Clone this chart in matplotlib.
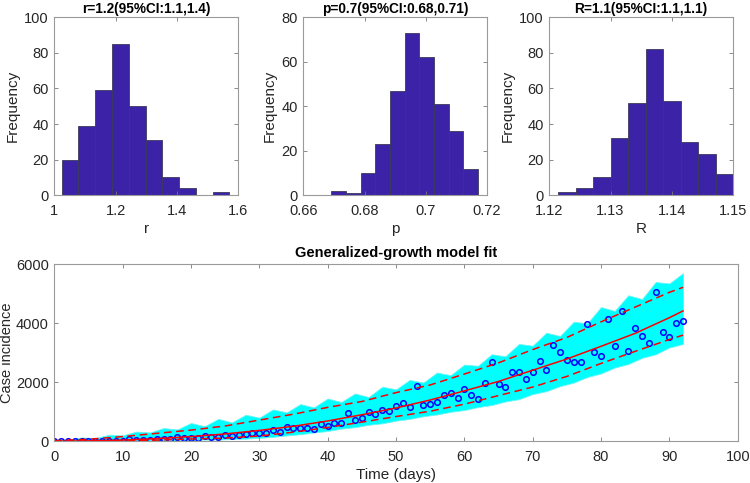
import numpy as np
import matplotlib
matplotlib.use('Agg')
import matplotlib.pyplot as plt
from matplotlib.ticker import FormatStrFormatter

plt.rcParams['font.family'] = ['Liberation Sans', 'DejaVu Sans']
plt.rcParams['font.size'] = 10

# Histogramas de los parametros (10 clases cada uno)
r_rango = (1.024, 1.572)
r_cuentas = [20, 39, 59, 85, 50, 31, 10, 4, 0, 2]
p_rango = (0.6692, 0.7170)
p_cuentas = [2, 1, 10, 23, 47, 73, 62, 41, 29, 12]
R_rango = (1.1215, 1.1500)
R_cuentas = [2, 4, 10, 32, 52, 82, 53, 30, 23, 12]

titulos = ['r=1.2(95%CI:1.1,1.4)', 'p=0.7(95%CI:0.68,0.71)', 'R=1.1(95%CI:1.1,1.1)']
etiquetas_x = ['r', 'p', 'R']
limites_x = [(1.0, 1.6), (0.66, 0.72), (1.12, 1.15)]
ticks_x = [[1, 1.2, 1.4, 1.6], [0.66, 0.68, 0.7, 0.72], [1.12, 1.13, 1.14, 1.15]]
limites_y = [100, 80, 100]

# Incidencia observada (dias 0..92)
dias = np.arange(0, 93)
casos = [1, 3, 2, 4, 6, 5, 9, 12, 15, 22, 18, 70, 45, 48, 57, 90, 80, 90, 136, 113,
         124, 124, 181, 136, 147, 226, 170, 226, 260, 294, 283, 271, 396, 316, 475, 441,
         441, 452, 418, 588, 508, 622, 633, 972, 723, 780, 983, 920, 1062, 1040, 1198,
         1288, 1153, 1887, 1243, 1277, 1322, 1571, 1639, 1458, 1785, 1571, 1435, 1978,
         2689, 1944, 1842, 2339, 2362, 2113, 2350, 2735, 2418, 3266, 3028, 2746, 2678,
         2689, 3966, 3017, 2882, 4158, 3232, 4430, 3074, 3853, 3571, 3345, 5051, 3695,
         3526, 4012, 4079]

# Ajuste del modelo y bandas de prediccion
dias_ajuste = [0, 5, 10, 15, 20, 25, 30, 35, 40, 45, 50, 55, 60, 65, 70, 75, 80, 85, 90, 92]
ajuste = [2, 15, 42, 90, 160, 250, 370, 510, 690, 900, 1130, 1400, 1710, 2030, 2410,
          2790, 3220, 3660, 4190, 4420]
banda_sup = [20, 70, 160, 270, 380, 520, 720, 920, 1150, 1350, 1650, 1910, 2280, 2660,
             3110, 3520, 4050, 4550, 5050, 5220]
banda_inf = [0, 0, 10, 40, 80, 110, 180, 310, 470, 650, 840, 1020, 1260, 1550, 1840,
             2200, 2640, 3050, 3450, 3600]

# Envolvente de las curvas simuladas (cian), cada 2 dias
dias_cian = np.arange(0, 93, 2)
cian_sup = [60, 60, 130, 110, 220, 200, 330, 300, 450, 400, 620, 510, 760, 640, 900, 800,
            1080, 980, 1260, 1150, 1450, 1330, 1620, 1500, 1850, 1760, 2080, 1990, 2330,
            2240, 2600, 2560, 2950, 2880, 3300, 3240, 3680, 3570, 4050, 4000, 4550, 4420,
            4950, 4820, 5400, 5350, 5700]
cian_inf = [0, 0, 0, 0, 0, 0, 5, 15, 20, 35, 45, 60, 60, 80, 90, 120, 150, 200, 240, 300,
            350, 430, 480, 560, 610, 700, 760, 850, 910, 1000, 1060, 1160, 1230, 1350,
            1430, 1600, 1700, 1870, 1990, 2180, 2300, 2500, 2620, 2830, 2950, 3180, 3300]

color_texto = '#262626'
color_eje = '#9a9a9a'


def estilo_ejes(ax):
    for s in ax.spines.values():
        s.set_color(color_eje)
        s.set_linewidth(0.8)
    ax.tick_params(direction='in', top=True, right=True, length=3, width=0.6,
                   color='#777777', labelcolor=color_texto, labelsize=10.5)
    ax.tick_params(axis='x', pad=6)
    ax.tick_params(axis='y', pad=4)


fig = plt.figure(figsize=(7.5, 4.83), dpi=100)

posiciones = [0.0724, 0.4044, 0.7324]
rangos = [r_rango, p_rango, R_rango]
cuentas = [r_cuentas, p_cuentas, R_cuentas]
for i in range(3):
    ax = fig.add_axes([posiciones[i], 0.5957, 0.2450, 0.3685])
    bordes = np.linspace(rangos[i][0], rangos[i][1], len(cuentas[i]) + 1)
    ax.bar(bordes[:-1], cuentas[i], width=np.diff(bordes), align='edge',
           color='#3b22a6', edgecolor='#3a3a5a', linewidth=0.6)
    ax.set_xlim(*limites_x[i])
    ax.set_ylim(0, limites_y[i])
    ax.set_xticks(ticks_x[i])
    ax.xaxis.set_major_formatter(FormatStrFormatter('%g'))
    ax.set_yticks(np.arange(0, limites_y[i] + 1, 20))
    ax.set_title(titulos[i], fontsize=9.8, fontweight='bold', color='black', pad=3)
    ax.set_xlabel(etiquetas_x[i], fontsize=11, color=color_texto, labelpad=3)
    ax.set_ylabel('Frequency', fontsize=11, color=color_texto, labelpad=3)
    estilo_ejes(ax)

# Grafico inferior: ajuste del modelo
ax = fig.add_axes([0.0724, 0.0863, 0.9112, 0.3665])
ax.fill_between(dias_cian, cian_inf, cian_sup, color='#00ffff', linewidth=0.6,
                edgecolor='#66f5f5')
ax.plot(dias, casos, 'o', markerfacecolor='none', markeredgecolor='#0000ff',
        markersize=4, markeredgewidth=1.1)
ax.plot(dias_ajuste, ajuste, '-', color='#ff0000', linewidth=1.1)
ax.plot(dias_ajuste, banda_sup, '--', color='#ff0000', linewidth=1.1, dashes=(5, 3))
ax.plot(dias_ajuste, banda_inf, '--', color='#ff0000', linewidth=1.1, dashes=(5, 3))
ax.set_xlim(0, 100)
ax.set_ylim(0, 6000)
ax.set_xticks(np.arange(0, 101, 10))
ax.set_yticks([0, 2000, 4000, 6000])
ax.set_title('Generalized-growth model fit', fontsize=10.5, fontweight='bold',
             color='black', pad=5)
ax.set_xlabel('Time (days)', fontsize=11, color=color_texto, labelpad=3)
ax.set_ylabel('Case incidence', fontsize=10.5, color=color_texto, labelpad=1)
estilo_ejes(ax)

plt.savefig('out.png', dpi=100)
